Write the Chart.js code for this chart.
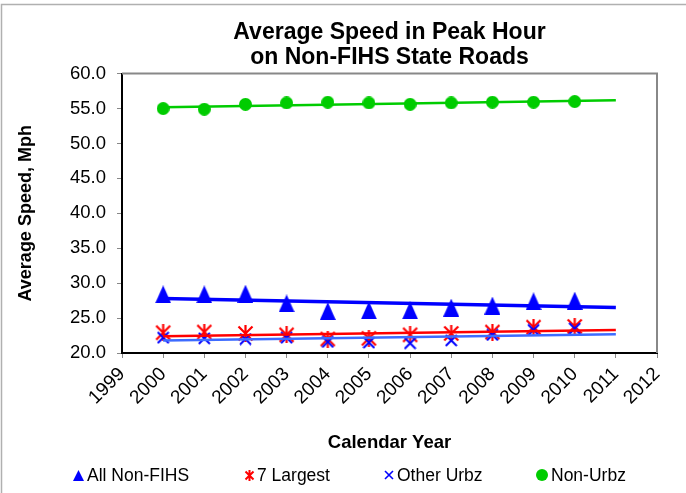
<!DOCTYPE html>
<html>
<head>
<meta charset="utf-8">
<title>Average Speed in Peak Hour</title>
<script src="https://cdn.jsdelivr.net/npm/chart.js@4.4.1/dist/chart.umd.min.js"></script>
<style>
html, body { margin: 0; padding: 0; background: #fff; }
#wrap { width: 686px; height: 493px; position: relative; }
</style>
</head>
<body>
<div id="wrap"><canvas id="speedChart"></canvas></div>
<script>
// ======================================================
// Data
// ======================================================

const years = [2000, 2001, 2002, 2003, 2004, 2005, 2006, 2007, 2008, 2009, 2010];

const allNonFihs = [28.4, 28.4, 28.5, 27.1, 26.0, 26.1, 26.1, 26.5, 26.8, 27.4, 27.5];
const largest7   = [22.9, 23.0, 22.8, 22.6, 22.0, 22.1, 22.6, 22.8, 23.0, 23.7, 23.8];
const otherUrbz  = [22.2, 22.1, 22.0, 22.2, 21.6, 21.5, 21.4, 21.8, 22.6, 23.3, 23.5];
const nonUrbz    = [55.0, 54.9, 55.6, 55.8, 55.9, 55.8, 55.6, 55.8, 55.9, 55.9, 56.0];

// linear trendlines, start and end values
const trendYears     = [2000, 2011];
const trendAll       = [27.8, 26.5];
const trendLargest7  = [22.4, 23.3];
const trendOtherUrbz = [21.8, 22.7];
const trendNonUrbz   = [55.2, 56.2];

const seriesNames = ["All Non-FIHS", "7 Largest", "Other Urbz", "Non-Urbz"];

const titleLines = ["Average Speed in Peak Hour", "on Non-FIHS State Roads"];
const yTitle = "Average Speed, Mph";
const xTitle = "Calendar Year";

// ======================================================
// Helpers
// ======================================================

const FONT = "'Liberation Sans', Arial, Helvetica, sans-serif";

function points(xs, ys) {
    return xs.map((x, i) => ({ x: x, y: ys[i] }));
}

function markerCanvas(kind, w, h, color, lw) {
    const c = document.createElement("canvas");
    c.width = w;
    c.height = h;
    const g = c.getContext("2d");
    g.fillStyle = color;
    g.strokeStyle = color;
    g.lineWidth = lw || 2;
    if (kind === "triangle") {
        g.beginPath();
        g.moveTo(w / 2, 0);
        g.lineTo(w, h);
        g.lineTo(0, h);
        g.closePath();
        g.fill();
    } else if (kind === "star") {
        const p = 1.5;
        g.beginPath();
        g.moveTo(p, p); g.lineTo(w - p, h - p);
        g.moveTo(w - p, p); g.lineTo(p, h - p);
        g.moveTo(w / 2, 0); g.lineTo(w / 2, h);
        g.stroke();
    } else if (kind === "cross") {
        const p = 1;
        g.beginPath();
        g.moveTo(p, p); g.lineTo(w - p, h - p);
        g.moveTo(w - p, p); g.lineTo(p, h - p);
        g.stroke();
    } else if (kind === "circle") {
        g.beginPath();
        g.arc(w / 2, h / 2, w / 2, 0, Math.PI * 2);
        g.fill();
    }
    return c;
}

const BLUE = "#0000ff";
const RED = "#ff0000";
const LIGHTBLUE = "#3d6bff";
const GREEN = "#00cc00";

const bigMarks = [
    markerCanvas("triangle", 16, 18, BLUE),
    markerCanvas("star", 17, 17, RED, 2.2),
    markerCanvas("cross", 13, 13, BLUE, 2),
    markerCanvas("circle", 13, 13, GREEN)
];

const smallMarks = [
    markerCanvas("triangle", 11, 11, BLUE),
    markerCanvas("star", 11, 11, RED, 2),
    markerCanvas("cross", 10, 10, BLUE, 1.6),
    markerCanvas("circle", 12, 12, GREEN)
];

// ======================================================
// Plugins: frame, outer border, bottom legend
// ======================================================

const framePlugin = {
    id: "frame",
    afterDraw(chart) {
        const ctx = chart.ctx;
        const a = chart.chartArea;
        ctx.save();
        // outer chart border (top + left visible)
        ctx.strokeStyle = "#b0b0b0";
        ctx.lineWidth = 1.5;
        ctx.beginPath();
        ctx.moveTo(1.5, chart.height);
        ctx.lineTo(1.5, 4.5);
        ctx.lineTo(chart.width, 4.5);
        ctx.stroke();
        // plot area top and right edges
        ctx.strokeStyle = "#888888";
        ctx.lineWidth = 2;
        ctx.beginPath();
        ctx.moveTo(a.left, a.top);
        ctx.lineTo(a.right, a.top);
        ctx.lineTo(a.right, a.bottom);
        ctx.stroke();
        ctx.restore();
    }
};

const legendSlots = [
    { mark: 78.5, text: 87 },
    { mark: 249, text: 257 },
    { mark: 389, text: 397 },
    { mark: 542, text: 551 }
];

const legendPlugin = {
    id: "bottomLegend",
    afterDraw(chart) {
        const ctx = chart.ctx;
        const y = chart.height - 18;
        ctx.save();
        ctx.font = "17.5px " + FONT;
        ctx.fillStyle = "#000";
        ctx.textBaseline = "middle";
        ctx.textAlign = "left";
        seriesNames.forEach((name, i) => {
            const m = smallMarks[i];
            const s = legendSlots[i];
            ctx.drawImage(m, Math.round(s.mark - m.width / 2), Math.round(y - m.height / 2));
            ctx.fillText(name, s.text, y + 1);
        });
        ctx.restore();
    }
};

// ======================================================
// Chart
// ======================================================

function trend(data, color, width) {
    return {
        data: points(trendYears, data),
        showLine: true,
        borderColor: color,
        borderWidth: width,
        pointRadius: 0,
        fill: false,
        order: 0
    };
}

new Chart(
    document.getElementById("speedChart"),
    {
        type: "scatter",
        data: {
            datasets: [
                {
                    label: seriesNames[0],
                    data: points(years, allNonFihs),
                    pointStyle: bigMarks[0],
                    pointRadius: 8,
                    order: 4
                },
                {
                    label: seriesNames[1],
                    data: points(years, largest7),
                    pointStyle: bigMarks[1],
                    pointRadius: 8,
                    order: 3
                },
                {
                    label: seriesNames[2],
                    data: points(years, otherUrbz),
                    pointStyle: bigMarks[2],
                    pointRadius: 6,
                    order: 2
                },
                {
                    label: seriesNames[3],
                    data: points(years, nonUrbz),
                    pointStyle: bigMarks[3],
                    pointRadius: 6.5,
                    order: 1
                },
                trend(trendAll, BLUE, 3.5),
                trend(trendLargest7, RED, 2.5),
                trend(trendOtherUrbz, LIGHTBLUE, 2.5),
                trend(trendNonUrbz, GREEN, 2.5)
            ]
        },
        options: {
            responsive: true,
            maintainAspectRatio: false,
            animation: false,
            layout: {
                padding: { top: 0, left: 0, right: 29, bottom: 36 }
            },
            plugins: {
                legend: { display: false },
                tooltip: { enabled: false },
                title: {
                    display: true,
                    fullSize: false,
                    text: titleLines,
                    color: "#000",
                    font: { family: FONT, size: 23, weight: "bold", lineHeight: 1.1 },
                    padding: { top: 20, bottom: 3 }
                }
            },
            scales: {
                x: {
                    type: "linear",
                    min: 1999,
                    max: 2012,
                    afterFit(s) { s.height = 104; },
                    ticks: {
                        stepSize: 1,
                        autoSkip: false,
                        minRotation: 45,
                        maxRotation: 45,
                        padding: 5,
                        color: "#000",
                        font: { family: FONT, size: 19 },
                        callback: (v) => String(v)
                    },
                    grid: {
                        display: true,
                        drawOnChartArea: false,
                        drawTicks: true,
                        tickLength: 5,
                        color: "#888"
                    },
                    border: { display: true, color: "#000", width: 2 },
                    title: {
                        display: true,
                        text: xTitle,
                        color: "#000",
                        font: { family: FONT, size: 18.5, weight: "bold", lineHeight: 1.2 },
                        padding: { top: 0, bottom: 3 }
                    }
                },
                y: {
                    min: 20,
                    max: 60,
                    afterFit(s) { s.width = 122; },
                    ticks: {
                        stepSize: 5,
                        padding: 11,
                        color: "#000",
                        font: { family: FONT, size: 18.5 },
                        callback: (v) => v.toFixed(1)
                    },
                    grid: {
                        display: true,
                        drawOnChartArea: false,
                        drawTicks: true,
                        tickLength: 5,
                        color: "#888"
                    },
                    border: { display: true, color: "#000", width: 2 },
                    title: {
                        display: true,
                        text: yTitle,
                        color: "#000",
                        font: { family: FONT, size: 18, weight: "bold", lineHeight: 1.2 },
                        padding: { top: 15, bottom: 0 }
                    }
                }
            }
        },
        plugins: [framePlugin, legendPlugin]
    }
);
</script>
</body>
</html>
